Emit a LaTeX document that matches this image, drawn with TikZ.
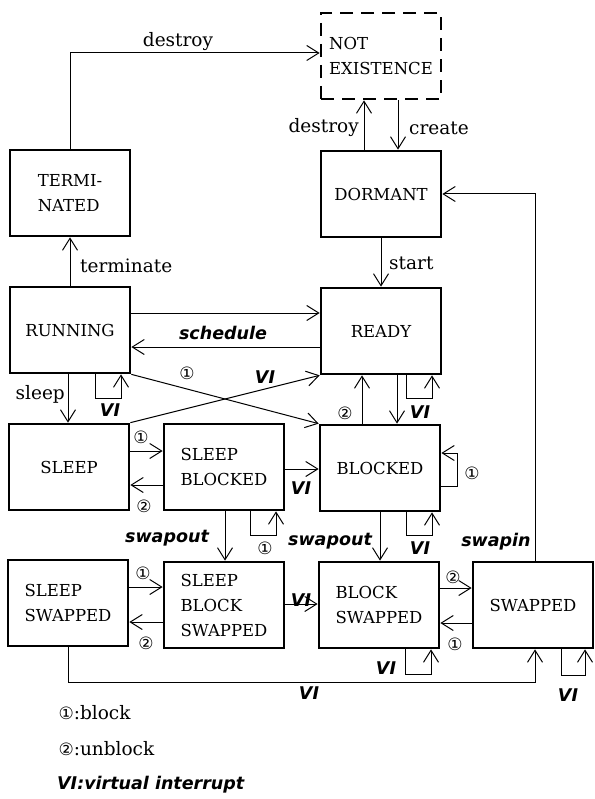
\documentclass[tikz,border=0pt]{standalone}
\usepackage{fontspec}
\setmainfont{DejaVu Serif}
\newfontfamily\gothic{DejaVu Sans}
\usetikzlibrary{arrows.meta}
\newcommand\bxfont{\fontsize{16.5}{25}\selectfont}
\newcommand\lbfont{\fontsize{18.5}{22}\selectfont}
\newcommand\vifont{\gothic\bfseries\itshape\fontsize{17.5}{21}\selectfont}
\newcommand\nmfont{\gothic\fontsize{17}{19}\selectfont}
\begin{document}
\begin{tikzpicture}[x=1pt,y=-1pt,
  box/.style={draw,line width=2.7pt,minimum width=120pt,minimum height=86pt,inner sep=0pt,align=left,font=\bxfont},
  arr/.style={line width=1pt,-{Straight Barb[length=12pt,width=15pt]}},
  lab/.style={font=\lbfont,inner sep=1pt},
  vi/.style={font=\vifont,inner sep=1pt},
  num/.style={font=\nmfont,inner sep=0pt}]
\useasboundingbox (0,0) rectangle (594,799);
% boxes
\node[box,dash pattern=on 13pt off 8pt] (ne) at (381,56) {NOT\\EXISTENCE};
\node[box] (term) at (70,193) {TERMI-\\NATED};
\node[box] (dorm) at (381,194) {DORMANT};
\node[box] (run) at (70,330) {RUNNING};
\node[box] (ready) at (381,331) {READY};
\node[box] (sleep) at (69,467) {SLEEP};
\node[box] (sb) at (224,467) {SLEEP\\BLOCKED};
\node[box] (blk) at (380,468) {BLOCKED};
\node[box] (ss) at (68,603) {SLEEP\\SWAPPED};
\node[box] (sbs) at (224,605) {SLEEP\\BLOCK\\SWAPPED};
\node[box] (bs) at (379,605) {BLOCK\\SWAPPED};
\node[box] (sw) at (533,605) {SWAPPED};
% top
\draw[arr] (term.north) |- ([yshift=3pt]ne.west);
\node[lab] at (178,42) {destroy};
\draw[arr] (dorm.north -| 364,0) -- (ne.south -| 364,0);
\node[lab,anchor=east] at (360,128) {destroy};
\draw[arr] (ne.south -| 398,0) -- (dorm.north -| 398,0);
\node[lab,anchor=west] at (408,128) {create};
\draw[arr] (dorm.south) -- (ready.north);
\node[lab,anchor=west] at (388,263) {start};
\draw[arr] (run.north) -- (term.south);
\node[lab,anchor=west] at (79,266) {terminate};
% running / ready
\draw[arr] (run.east |- 0,313) -- (ready.west |- 0,313);
\draw[arr] (ready.west |- 0,347) -- (run.east |- 0,347);
\node[vi] at (223,333) {schedule};
\draw[arr] (run.south east) -- (blk.north west);
\node[num] at (187,373) {①};
\draw[arr] (sleep.north east) -- (ready.south west);
\node[vi] at (265,377) {VI};
\draw[arr] (run.south -| 95,0) -- (95,398) -- (121,398) -- (run.south -| 121,0);
\node[vi] at (110,410) {VI};
\draw[arr] (run.south -| 68,0) -- (sleep.north -| 68,0);
\node[lab,anchor=east] at (66,394) {sleep};
% sleep / sleep blocked / blocked
\draw[arr] (sleep.east |- 0,451) -- (sb.west |- 0,451);
\node[num] at (141,437) {①};
\draw[arr] (sb.west |- 0,485) -- (sleep.east |- 0,485);
\node[num] at (144,506) {②};
\draw[arr] (sb.east |- 0,469) -- (blk.west |- 0,469);
\node[vi] at (301,488) {VI};
\draw[arr] (blk.east |- 0,486) -- (457,486) -- (457,453) -- (blk.east |- 0,453);
\node[num] at (472,473) {①};
\draw[arr] (ready.south -| 397,0) -- (blk.north -| 397,0);
\draw[arr] (blk.north -| 362,0) -- (ready.south -| 362,0);
\node[num] at (345,413) {②};
\draw[arr] (ready.south -| 406,0) -- (406,398) -- (432,398) -- (ready.south -| 432,0);
\node[vi] at (420,412) {VI};
% swapout
\draw[arr] (sb.south -| 225,0) -- (sbs.north -| 225,0);
\node[vi] at (167,538) {swapout};
\draw[arr] (sb.south -| 250,0) -- (250,535) -- (276,535) -- (sb.south -| 276,0);
\node[num] at (265,548) {①};
\draw[arr] (blk.south -| 380,0) -- (bs.north -| 380,0);
\node[vi] at (330,541) {swapout};
\draw[arr] (blk.south -| 406,0) -- (406,535) -- (432,535) -- (blk.south -| 432,0);
\node[vi] at (420,548) {VI};
% bottom row
\draw[arr] (ss.east |- 0,587) -- (sbs.west |- 0,587);
\node[num] at (143,573) {①};
\draw[arr] (sbs.west |- 0,622) -- (ss.east |- 0,622);
\node[num] at (146,643) {②};
\draw[arr] (sbs.east |- 0,604) -- (bs.west |- 0,604);
\node[vi] at (301,600) {VI};
\draw[arr] (bs.east |- 0,588) -- (sw.west |- 0,588);
\node[num] at (453,577) {②};
\draw[arr] (sw.west |- 0,623) -- (bs.east |- 0,623);
\node[num] at (455,644) {①};
\draw[arr] (bs.south -| 405,0) -- (405,674) -- (431,674) -- (bs.south -| 431,0);
\node[vi] at (386,668) {VI};
\draw[arr] (sw.south -| 561,0) -- (561,675) -- (585,675) -- (sw.south -| 585,0);
\node[vi] at (568,695) {VI};
\draw[arr] (ss.south) |- (535,682) -- (sw.south -| 535,0);
\node[vi] at (309,693) {VI};
\draw[arr] (sw.north -| 535,0) |- (dorm.east);
\node[vi] at (496,542) {swapin};
% legend
\node[anchor=west,font=\lbfont] (l1) at (55,713) {{\nmfont ①}:block};
\node[anchor=west,font=\lbfont] (l2) at (55,749) {{\nmfont ②}:unblock};
\node[vi,anchor=west] (l3) at (56,785) {VI:virtual interrupt};
\end{tikzpicture}
\end{document}
